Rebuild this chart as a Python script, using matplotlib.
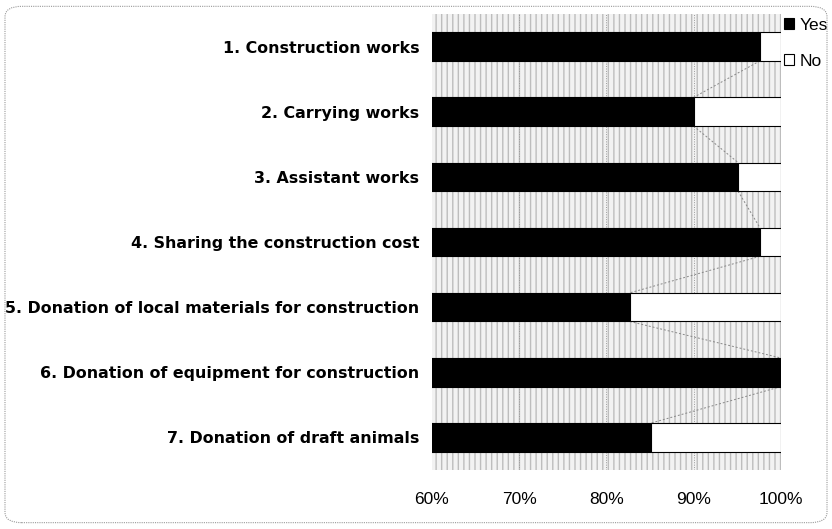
import matplotlib
matplotlib.use("Agg")
import matplotlib.pyplot as plt
from matplotlib.patches import Rectangle, FancyBboxPatch
from matplotlib.ticker import FuncFormatter

CATEGORIES = [
    "1. Construction works",
    "2. Carrying works",
    "3. Assistant works",
    "4. Sharing the construction cost",
    "5. Donation of local materials for construction",
    "6. Donation of equipment for construction",
    "7. Donation of draft animals",
]
YES = [97.6, 90.0, 95.1, 97.6, 82.7, 100.0, 85.1]
NO = [100 - v for v in YES]
XTICKS = [60, 70, 80, 90, 100]

plt.rcParams["font.family"] = ["Liberation Sans", "DejaVu Sans"]

fig = plt.figure(figsize=(8.32, 5.29), dpi=100)
fig.patch.set_facecolor("white")

# rounded dotted frame around the whole chart
frame = FancyBboxPatch((0.006, 0.012), 0.988, 0.976, transform=fig.transFigure,
                       boxstyle="round,pad=0,rounding_size=0.02",
                       fill=False, edgecolor="#999999", linewidth=0.8,
                       linestyle=(0, (1, 1)))
fig.patches.append(frame)

ax = fig.add_axes([0.519, 0.1115, 0.4195, 0.862])
ax.set_facecolor("white")
ax.set_xlim(60, 100)
ax.set_ylim(len(CATEGORIES) - 0.5, -0.5)

# scanned-looking textured plot background
ax.add_patch(Rectangle((60, -0.5), 40, len(CATEGORIES), facecolor="#f2f2f2",
                       edgecolor="#bdbdbd", hatch="|||", linewidth=0, zorder=0))
for x in XTICKS[1:-1]:
    ax.axvline(x, color="#999999", linewidth=0.7, linestyle=(0, (1, 1.5)), zorder=1)

ys = list(range(len(CATEGORIES)))
h = 0.44
ax.barh(ys, YES, left=0, height=h, color="black", edgecolor="black",
        linewidth=0.8, label="Yes", zorder=3)
ax.barh(ys, NO, left=YES, height=h, color="white", edgecolor="black",
        linewidth=0.8, label="No", zorder=3)

# series lines between consecutive bars
for i in range(len(YES) - 1):
    ax.plot([YES[i], YES[i + 1]], [i + h / 2, i + 1 - h / 2], color="#888888",
            linewidth=0.7, linestyle=(0, (2, 2)), zorder=2)

ax.set_yticks(ys)
ax.set_yticklabels(CATEGORIES, fontsize=11.4, fontweight="bold",
                   family="DejaVu Sans")
ax.set_xticks(XTICKS)
ax.xaxis.set_major_formatter(FuncFormatter(lambda v, p: f"{v:.0f}%"))
ax.tick_params(axis="x", length=0, pad=16, labelsize=12.5)
ax.tick_params(axis="y", length=0, pad=9)
for s in ax.spines.values():
    s.set_visible(False)

leg = ax.legend(loc="upper left", bbox_to_anchor=(1.003, 0.995), frameon=False,
                fontsize=12.5, handlelength=0.6, handleheight=0.6,
                handletextpad=0.3, labelspacing=1.2, borderaxespad=0,
                borderpad=0.1)

fig.savefig("out.png", dpi=100, facecolor="white")
